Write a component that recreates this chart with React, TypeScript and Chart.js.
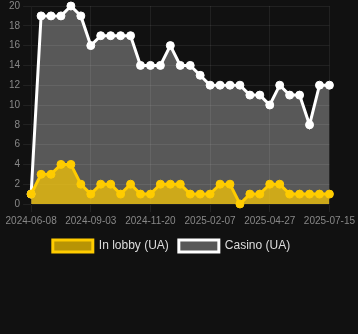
import React, { useEffect, useRef } from "react";
import { Chart, registerables } from "chart.js";

Chart.register(...registerables);

const dates = [
  "2024-06-08", "2024-06-22", "2024-07-06", "2024-07-20", "2024-08-03", "2024-08-18",
  "2024-09-03", "2024-09-16", "2024-09-29", "2024-10-12", "2024-10-25", "2024-11-07",
  "2024-11-20", "2024-12-03", "2024-12-16", "2024-12-29", "2025-01-11", "2025-01-24",
  "2025-02-07", "2025-02-20", "2025-03-05", "2025-03-18", "2025-03-31", "2025-04-13",
  "2025-04-27", "2025-05-10", "2025-05-23", "2025-06-05", "2025-06-18", "2025-07-01",
  "2025-07-15",
];

const inLobby = [1, 3, 3, 4, 4, 2, 1, 2, 2, 1, 2, 1, 1, 2, 2, 2, 1, 1, 1, 2, 2, 0, 1, 1, 2, 2, 1, 1, 1, 1, 1];
const casino = [1, 19, 19, 19, 20, 19, 16, 17, 17, 17, 17, 14, 14, 14, 16, 14, 14, 13, 12, 12, 12, 12, 11, 11, 10, 12, 11, 11, 8, 12, 12];

const yTicks = { min: 0, max: 20, step: 2 };
const labelEvery = 6;

export default function App() {
  const ref = useRef<HTMLCanvasElement>(null);
  useEffect(() => {
    document.body.style.margin = "0";
    document.body.style.background = "#111111";
    const ctx = ref.current!;
    const chart = new Chart(ctx, {
      type: "line",
      data: {
        labels: dates,
        datasets: [
          {
            label: "In lobby (UA)",
            data: inLobby,
            borderColor: "#ffcc00",
            backgroundColor: "rgba(255,204,0,0.7)",
            pointBackgroundColor: "#ffcc00",
            pointBorderColor: "#ffcc00",
            borderWidth: 3,
            pointRadius: 4,
            pointBorderWidth: 1,
            fill: "origin",
            tension: 0,
            clip: false as any,
          },
          {
            label: "Casino (UA)",
            data: casino,
            borderColor: "#ffffff",
            backgroundColor: "rgba(255,255,255,0.3)",
            pointBackgroundColor: "#ffffff",
            pointBorderColor: "#ffffff",
            borderWidth: 3,
            pointRadius: 4,
            pointBorderWidth: 1,
            fill: "origin",
            tension: 0,
            clip: false as any,
          },
        ],
      },
      options: {
        animation: false,
        responsive: false,
        maintainAspectRatio: false,
        layout: { padding: { left: 6, right: 21, top: 0, bottom: 72 } },
        scales: {
          x: {
            afterBuildTicks: (scale: any) => {
              scale.ticks = scale.ticks.filter((t: any) => t.value % labelEvery === 0);
            },
            ticks: {
              autoSkip: false,
              maxRotation: 0,
              color: "#888888",
              font: { size: 10 },
            },
            grid: { color: "rgba(255,255,255,0.07)" },
          },
          y: {
            min: yTicks.min,
            max: yTicks.max,
            ticks: { stepSize: yTicks.step, color: "#888888", font: { size: 10 } },
            grid: { color: "rgba(255,255,255,0.07)" },
          },
        },
        plugins: {
          legend: {
            position: "bottom",
            labels: { color: "#dddddd", font: { size: 12 }, boxWidth: 40, boxHeight: 12 },
          },
          tooltip: { enabled: false },
        },
      },
    });
    return () => chart.destroy();
  }, []);
  return (
    <div style={{ width: 358, height: 334, background: "#111111", overflow: "hidden" }}>
      <canvas ref={ref} width={358} height={337} style={{ display: "block", marginTop: -3 }} />
    </div>
  );
}
